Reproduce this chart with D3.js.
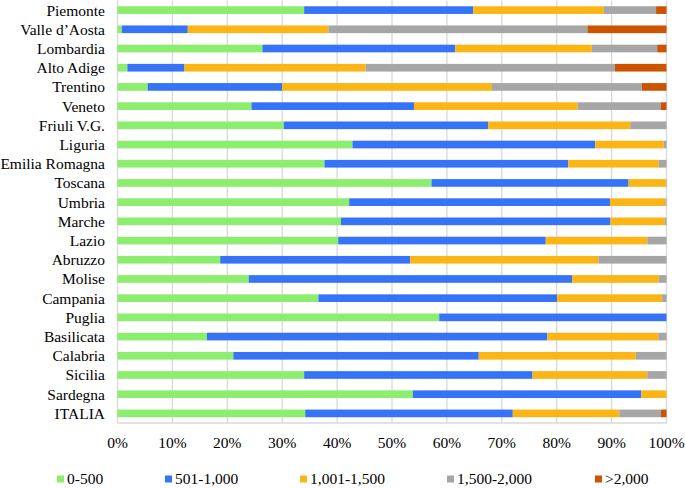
<!doctype html>
<html>
<head>
  <meta charset='utf-8'>
  <style>
    body { margin: 0; background: #fff; }
  </style>
</head>
<body>
  <svg width='685' height='488' font-family='Liberation Serif' font-size='15.5'></svg>
  <script src='https://d3js.org/d3.v7.min.js'></script>
  <script>
    var regions = ['Piemonte', 'Valle d\u2019Aosta', 'Lombardia', 'Alto Adige', 'Trentino',
                   'Veneto', 'Friuli V.G.', 'Liguria', 'Emilia Romagna', 'Toscana',
                   'Umbria', 'Marche', 'Lazio', 'Abruzzo', 'Molise', 'Campania',
                   'Puglia', 'Basilicata', 'Calabria', 'Sicilia', 'Sardegna', 'ITALIA'];

    var seriesNames = ['0-500', '501-1,000', '1,001-1,500', '1,500-2,000', '>2,000'];

    // percentages, one value per region
    var s0_500 =    [34.0, 0.8, 26.4, 1.8, 5.5, 24.4, 30.3, 42.8, 37.7, 57.2, 42.2,
                     40.7, 40.2, 18.7, 23.9, 36.6, 58.6, 16.3, 21.1, 34.0, 53.8, 34.2];
    var s501_1000 = [30.8, 12.0, 35.1, 10.4, 24.5, 29.6, 37.2, 44.2, 44.4, 35.9, 47.5,
                     49.1, 37.8, 34.6, 58.9, 43.5, 41.4, 62.0, 44.7, 41.6, 41.6, 37.8];
    var s1001_1500 = [23.8, 25.6, 24.9, 33.0, 38.2, 29.8, 25.9, 12.5, 16.5, 6.8, 10.1,
                      9.9, 18.5, 34.3, 15.8, 19.1, 0, 20.2, 28.6, 20.9, 4.6, 19.4];
    var s1500_2000 = [9.5, 47.2, 11.9, 45.4, 27.3, 15.2, 6.6, 0.5, 1.4, 0.1, 0.2,
                      0.3, 3.5, 12.4, 1.4, 0.8, 0, 1.5, 5.6, 3.5, 0, 7.6];
    var s2000 =     [1.9, 14.4, 1.7, 9.4, 4.5, 1.0, 0, 0, 0, 0, 0,
                     0, 0, 0, 0, 0, 0, 0, 0, 0, 0, 1.0];

    var tickValues = [0, 10, 20, 30, 40, 50, 60, 70, 80, 90, 100];

    var colors = ['#8cee6e', '#3673f6', '#fbb616', '#a6a6a6', '#cc5400'];

    var allSeries = [s0_500, s501_1000, s1001_1500, s1500_2000, s2000];
    var rows = regions.map(function(r, i) {
      var o = { region: r };
      seriesNames.forEach(function(k, j) { o[k] = allSeries[j][i]; });
      return o;
    });

    var svg = d3.select('svg');
    var margin = { left: 117.5, right: 18.5, top: 0.5, bottom: 65 };
    var width = 685 - margin.left - margin.right;
    var height = 488 - margin.top - margin.bottom;
    var g = svg.append('g')
               .attr('transform', 'translate(' + margin.left + ',' + margin.top + ')');

    var x = d3.scaleLinear().domain([0, 100]).range([0, width]);
    var y = d3.scaleBand().domain(regions).range([0, height]).paddingInner(0.6).paddingOuter(0.3);

    // grid lines
    g.append('g')
     .selectAll('line').data(tickValues).enter().append('line')
     .attr('x1', function(d) { return x(d); })
     .attr('x2', function(d) { return x(d); })
     .attr('y1', 0).attr('y2', height)
     .attr('stroke', '#d9d9d9').attr('stroke-width', 1.3);

    g.append('line')
     .attr('x1', 0).attr('x2', width)
     .attr('y1', height).attr('y2', height)
     .attr('stroke', '#d9d9d9').attr('stroke-width', 1.3);

    var stack = d3.stack().keys(seriesNames);
    var layers = stack(rows);

    g.selectAll('.layer').data(layers).enter().append('g')
     .attr('class', 'layer')
     .attr('fill', function(d, i) { return colors[i]; })
     .selectAll('rect').data(function(d) { return d; }).enter().append('rect')
     .attr('x', function(d) { return x(d[0]); })
     .attr('width', function(d) { return Math.max(0, x(d[1]) - x(d[0])); })
     .attr('y', function(d) { return y(d.data.region); })
     .attr('height', y.bandwidth());

    // category labels
    g.selectAll('.cat').data(regions).enter().append('text')
     .attr('class', 'cat')
     .attr('x', -12.5)
     .attr('y', function(d) { return y(d) + y.bandwidth() / 2; })
     .attr('dy', '0.35em')
     .attr('text-anchor', 'end')
     .attr('font-family', 'Liberation Serif')
     .text(function(d) { return d; });

    // x tick labels
    g.selectAll('.tick-label').data(tickValues).enter().append('text')
     .attr('class', 'tick-label')
     .attr('x', function(d) { return x(d); })
     .attr('y', height + 20)
     .attr('dy', '0.35em')
     .attr('text-anchor', 'middle')
     .attr('font-family', 'Liberation Serif')
     .text(function(d) { return d + '%'; });

    // legend
    var legendX = [57, 165, 300, 447, 595];
    var legend = svg.selectAll('.legend').data(seriesNames).enter().append('g')
                    .attr('class', 'legend')
                    .attr('transform', function(d, i) { return 'translate(' + legendX[i] + ',479)'; });
    legend.append('rect')
          .attr('x', 0).attr('y', -3.5).attr('width', 7).attr('height', 7)
          .attr('fill', function(d, i) { return colors[i]; });
    legend.append('text')
          .attr('x', 10).attr('y', 0).attr('dy', '0.35em')
          .attr('font-family', 'Liberation Serif')
          .text(function(d) { return d; });
  </script>
</body>
</html>
